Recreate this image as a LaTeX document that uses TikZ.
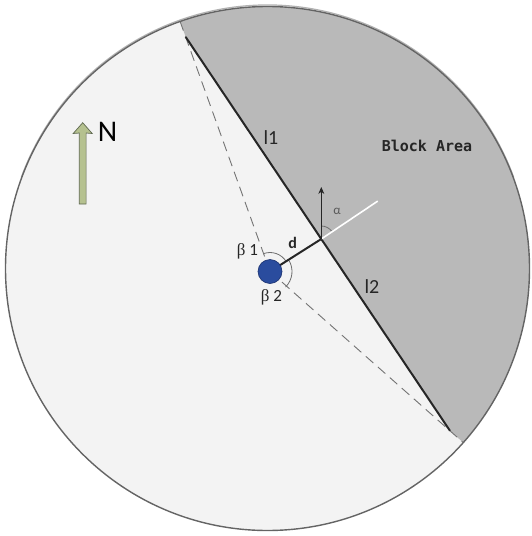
\documentclass[tikz,border=0pt]{standalone}
\usepackage{fontspec}
\setmainfont{Carlito}
\newfontfamily\blockmono{DejaVu Sans Mono}
\newfontfamily\greekserif{Liberation Serif}
\usetikzlibrary{arrows.meta}
\definecolor{lightfill}{RGB}{243,243,243}
\definecolor{blockgray}{RGB}{185,185,185}
\definecolor{rimgray}{RGB}{100,100,100}
\definecolor{dashgray}{RGB}{115,115,115}
\definecolor{dotblue}{RGB}{42,76,158}
\definecolor{dotedge}{RGB}{26,48,110}
\definecolor{arrowgreen}{RGB}{181,193,143}
\definecolor{arrowedge}{RGB}{95,105,80}
\definecolor{arcgray}{RGB}{110,110,110}
\tikzset{
  dashline/.style={draw=dashgray, line width=0.9, dash pattern=on 10pt off 6pt},
  chordline/.style={draw=black!85, line width=2},
  dline/.style={draw=black!85, line width=2},
  arcline/.style={draw=arcgray, line width=0.8},
  lbl/.style={inner sep=0, font=\fontsize{20}{24}\selectfont, text=black!85},
  smalllbl/.style={inner sep=0, font=\fontsize{17}{20}\selectfont, text=black!85},
}
\begin{document}
\begin{tikzpicture}[x=1pt,y=-1pt]
\useasboundingbox (0,0) rectangle (531,536);
\coordinate (C) at (267.5,268.5);
\coordinate (T) at (180.1,21.5);
\coordinate (B) at (463.3,442.6);
\coordinate (P) at (270,271.5);
\coordinate (D1) at (185.7,37);
\coordinate (D2) at (450,430.8);
\coordinate (Q) at (321.3,239);
\coordinate (W) at (377.7,201.1);
\coordinate (U) at (321.3,187);

% disc
\fill[lightfill] (C) circle (262);
\begin{scope}
  \clip (C) circle (262);
  \fill[blockgray] (T) -- (D1) -- (D2) -- (B) -- (600,620) -- (600,-50) -- (180,-50) -- cycle;
\end{scope}

% dashed lines
\draw[dashline] (P) -- (T);
\draw[dashline] (P) -- (B);

% boundary line
\draw[chordline] (D1) -- (D2);

% angle arcs
\draw[arcline] (P) ++(-109.8:19) arc (-109.8:-32.1:19);
\draw[arcline] (P) ++(-32.1:22) arc (-32.1:45:22);
\draw[arcline] (Q) ++(-90:13) arc (-90:-33.9:13);

% white perpendicular and north arrow at Q
\draw[white, line width=1.6] (Q) -- (W);
\draw[black!85, line width=0.8, -{Stealth[length=7pt,width=6pt]}] (Q) -- (U);

% distance d
\draw[dline] (P) -- (Q);

% dot
\node[circle, fill=dotblue, draw=dotedge, line width=0.6, minimum size=24pt, inner sep=0] (dot) at (P) {};

% rim with a faint shadow below
\draw[black!30, line width=1.2] ([yshift=1.5pt]C) ++(200:262) arc (200:340:262);
\draw[rimgray, line width=1.4] (C) circle (262);

% north arrow
\draw[fill=arrowgreen, draw=arrowedge, line width=0.7, line join=miter]
  (79.3,204) -- (79.3,133) -- (73.2,133.5) -- (82.7,122.7) -- (92.2,133.5) -- (86.1,133) -- (86.1,204) -- cycle;
\node[inner sep=0, font=\fontsize{30}{34}\selectfont, text=black] (N) at (107.5,132) {N};

% labels
\node[lbl] (l1) at (271,138) {l1};
\node[lbl] (l2) at (372,287) {l2};
\node[inner sep=0, font=\blockmono\bfseries\fontsize{15}{18}\selectfont, text=black!85] (blk) at (427,146) {Block Area};
\node[smalllbl, font=\bfseries\fontsize{16}{19}\selectfont] (dl) at (292.7,243) {d};
\node[smalllbl] (b1) at (247.5,251) {{\greekserif β} 1};
\node[smalllbl] (b2) at (271.5,297) {{\greekserif β} 2};
\node[inner sep=0, font=\fontsize{13}{15}\selectfont, text=black!65] (al) at (337,211.5) {α};
\end{tikzpicture}
\end{document}
